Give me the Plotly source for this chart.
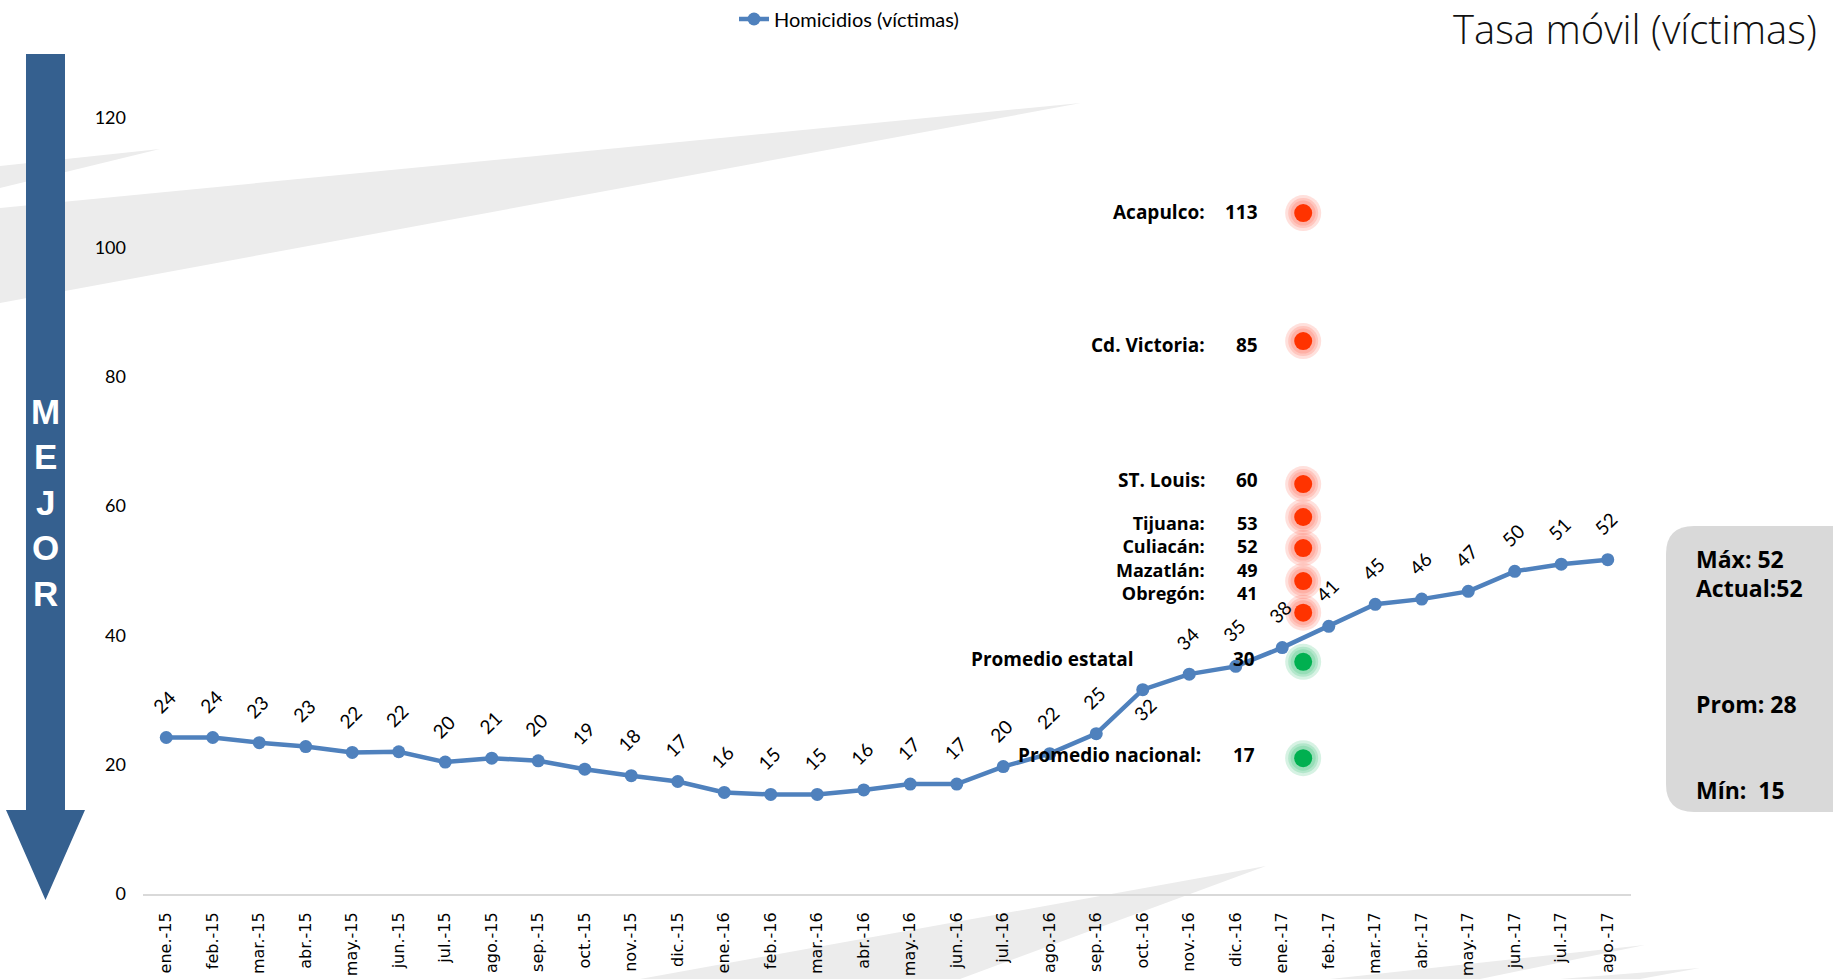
import plotly.graph_objects as go

# ---------------- data ----------------
months = ["ene.-15", "feb.-15", "mar.-15", "abr.-15", "may.-15", "jun.-15", "jul.-15", "ago.-15",
          "sep.-15", "oct.-15", "nov.-15", "dic.-15", "ene.-16", "feb.-16", "mar.-16", "abr.-16",
          "may.-16", "jun.-16", "jul.-16", "ago.-16", "sep.-16", "oct.-16", "nov.-16", "dic.-16",
          "ene.-17", "feb.-17", "mar.-17", "abr.-17", "may.-17", "jun.-17", "jul.-17", "ago.-17"]
homicidios = [24.2, 24.2, 23.4, 22.8, 21.9, 22.0, 20.4, 21.0, 20.6, 19.3, 18.3, 17.4, 15.7, 15.4, 15.4, 16.1,
              17.0, 17.0, 19.7, 21.7, 24.8, 31.6, 34.0, 35.2, 38.1, 41.4, 44.8, 45.6, 46.8, 49.9, 51.0, 51.7]
point_labels = [24, 24, 23, 23, 22, 22, 20, 21, 20, 19, 18, 17, 16, 15, 15, 16,
                17, 17, 20, 22, 25, 32, 34, 35, 38, 41, 45, 46, 47, 50, 51, 52]
y_ticks = [0, 20, 40, 60, 80, 100, 120]

cities = ["Acapulco:", "Cd. Victoria:", "ST. Louis:", "Tijuana:", "Culiacán:", "Mazatlán:", "Obregón:"]
city_values = [113, 85, 60, 53, 52, 49, 41]
promedios = ["Promedio estatal", "Promedio nacional:"]
promedio_values = [30, 17]

stat_max = 52
stat_actual = 52
stat_prom = 28
stat_min = 15

series_name = "Homicidios (víctimas)"
title_text = "Tasa móvil (víctimas)"
arrow_word = "MEJOR"

# ---------------- layout geometry ----------------
W, H = 1833, 979
L, R, T, B = 143, 202, 60, 85
PW, PH = W - L - R, H - T - B
Y_MAX = 128.97


def px(x):
    return (x - L) / PW


def py(y):
    return (H - B - y) / PH


def path(points, close=True):
    s = "M " + " L ".join(f"{px(x):.5f},{py(y):.5f}" for x, y in points)
    return s + (" Z" if close else "")


LINE_BLUE = "#4f81bd"
ARROW_BLUE = "#35608f"
RED = "#ff3300"
GREEN = "#00b050"

fig = go.Figure()

# main series
fig.add_trace(go.Scatter(
    x=list(range(len(months))), y=homicidios, mode="lines+markers", name=series_name,
    line=dict(color=LINE_BLUE, width=4.5),
    marker=dict(color=LINE_BLUE, size=13),
    hoverinfo="skip",
))

# data labels (rotated)
below = {21}
annotations = []
for i, (v, lab) in enumerate(zip(homicidios, point_labels)):
    annotations.append(dict(
        x=i, y=v, xref="x", yref="y", text=str(lab), showarrow=False, textangle=-45,
        xshift=-2 if i not in below else 2, yshift=36 if i not in below else -20,
        font=dict(family="Lato, Calibri, sans-serif", size=19, color="#000000"),
    ))

# comparison markers (decorative column)
dot_x = 24.45
red_y = [105.3, 85.5, 63.4, 58.3, 53.5, 48.4, 43.5]
green_y = [35.9, 21.0]
for ys, col, glow in ((red_y, RED, "rgba(255,60,40,0.16)"), (green_y, GREEN, "rgba(0,176,80,0.16)")):
    for sz in (36, 30, 25):
        fig.add_trace(go.Scatter(x=[dot_x] * len(ys), y=ys, mode="markers", showlegend=False,
                                 marker=dict(color=glow, size=sz, line=dict(width=0)), hoverinfo="skip"))
    fig.add_trace(go.Scatter(x=[dot_x] * len(ys), y=ys, mode="markers", showlegend=False,
                             marker=dict(color=col, size=18, line=dict(width=0)), hoverinfo="skip"))

# city labels: first three as single rows, the tight group of four as one multi-line block
lab_font = dict(family="Open Sans, sans-serif", size=19, color="#000000")
block_font = dict(family="Open Sans, sans-serif", size=18, color="#000000")
NAME_X, VAL_X = 22.39, 23.53
city_text_y = [105.5, 84.9, 64.0]
for name, val, yy in zip(cities[:3], city_values[:3], city_text_y):
    annotations.append(dict(x=NAME_X, y=yy, xref="x", yref="y", text=f"<b>{name}</b>", showarrow=False,
                            xanchor="right", font=lab_font))
    annotations.append(dict(x=VAL_X, y=yy, xref="x", yref="y", text=f"<b>{val}</b>", showarrow=False,
                            xanchor="right", font=lab_font))
block_y = 51.96
annotations.append(dict(x=NAME_X, y=block_y, xref="x", yref="y", showarrow=False, xanchor="right",
                        align="right", font=block_font,
                        text="<br>".join(f"<b>{n}</b>" for n in cities[3:])))
annotations.append(dict(x=VAL_X, y=block_y, xref="x", yref="y", showarrow=False, xanchor="right",
                        align="right", font=block_font,
                        text="<br>".join(f"<b>{v}</b>" for v in city_values[3:])))

prom_text_y = [36.4, 21.5]
prom_name_x = [20.86, 22.3]
for name, val, yy, nx in zip(promedios, promedio_values, prom_text_y, prom_name_x):
    annotations.append(dict(x=nx, y=yy, xref="x", yref="y", text=f"<b>{name}</b>", showarrow=False,
                            xanchor="right", font=lab_font))
    annotations.append(dict(x=23.46, y=yy, xref="x", yref="y", text=f"<b>{val}</b>", showarrow=False,
                            xanchor="right", font=lab_font))

# stats box text
box_font = dict(family="Open Sans, sans-serif", size=23, color="#000000")
for txt, yy in ((f"Máx: {stat_max}", 559), (f"Actual:{stat_actual}", 588),
                (f"Prom: {stat_prom}", 704), (f"Mín:  {stat_min}", 790)):
    annotations.append(dict(x=px(1694), y=py(yy), xref="paper", yref="paper", text=f"<b>{txt}</b>",
                            showarrow=False, xanchor="left", yanchor="middle", font=box_font))

# title
annotations.append(dict(x=px(1818), y=py(0), xref="paper", yref="paper", text=title_text,
                        showarrow=False, xanchor="right", yanchor="top", borderpad=0,
                        font=dict(family="Open Sans, sans-serif", size=40, color="#111111", weight=300)))

# MEJOR letters
for k, ch in enumerate(arrow_word):
    annotations.append(dict(x=px(45.5), y=py(411 + 45.5 * k), xref="paper", yref="paper", text=f"<b>{ch}</b>",
                            showarrow=False, xanchor="center", yanchor="middle",
                            font=dict(family="Liberation Sans, Arial, sans-serif", size=35, color="#ffffff")))

# ---------------- shapes ----------------
shapes = []
swoosh = "#ececec"
for poly in (
    [(0, 166), (160, 149), (0, 188)],
    [(0, 208), (1081, 103), (0, 303)],
    [(640, 979), (1266, 866), (960, 979)],
    [(1330, 979), (1645, 945), (1480, 979)],
    [(1560, 979), (1700, 968), (1640, 979)],
):
    shapes.append(dict(type="path", path=path(poly), xref="paper", yref="paper",
                       fillcolor=swoosh, line=dict(width=0), layer="below"))

# arrow
shapes.append(dict(type="path", xref="paper", yref="paper", layer="below",
                   path=path([(26, 54), (65, 54), (65, 810), (85, 810), (45.5, 900), (6, 810), (26, 810)]),
                   fillcolor=ARROW_BLUE, line=dict(width=0)))

# rounded stats box
x0, x1, y0, y1, rr = 1666, 1860, 526, 812, 28
box_path = (f"M {px(x0 + rr):.5f},{py(y0):.5f} L {px(x1):.5f},{py(y0):.5f} L {px(x1):.5f},{py(y1):.5f} "
            f"L {px(x0 + rr):.5f},{py(y1):.5f} Q {px(x0):.5f},{py(y1):.5f} {px(x0):.5f},{py(y1 - rr):.5f} "
            f"L {px(x0):.5f},{py(y0 + rr):.5f} Q {px(x0):.5f},{py(y0):.5f} {px(x0 + rr):.5f},{py(y0):.5f} Z")
shapes.append(dict(type="path", path=box_path, xref="paper", yref="paper", fillcolor="#d9d9d9",
                   line=dict(width=0), layer="below"))

fig.update_layout(
    width=W, height=H,
    margin=dict(l=L, r=R, t=T, b=B, autoexpand=False),
    paper_bgcolor="#ffffff", plot_bgcolor="rgba(0,0,0,0)",
    shapes=shapes, annotations=annotations,
    showlegend=True,
    legend=dict(orientation="h", x=px(734), y=py(19), xanchor="left", yanchor="middle",
                font=dict(family="Lato, Calibri, sans-serif", size=20, color="#000000"),
                bgcolor="rgba(0,0,0,0)", itemwidth=30),
    xaxis=dict(range=[-0.5, len(months) - 0.5], tickvals=list(range(len(months))), ticktext=months,
               tickangle=-90, showgrid=False, zeroline=False, showline=True, linecolor="#d9d9d9",
               linewidth=2, ticks="", ticklabelstandoff=10,
               tickfont=dict(family="DejaVu Sans, Verdana, sans-serif", size=16, color="#000000")),
    yaxis=dict(range=[0, Y_MAX], tickvals=y_ticks, showgrid=False, zeroline=False, showline=False,
               ticks="", ticklabelstandoff=16,
               tickfont=dict(family="Lato, Calibri, sans-serif", size=18, color="#000000")),
)

fig.write_html("out.html", config={"displayModeBar": False},
               post_script="document.body.style.margin='0px';document.body.style.overflow='hidden';")
